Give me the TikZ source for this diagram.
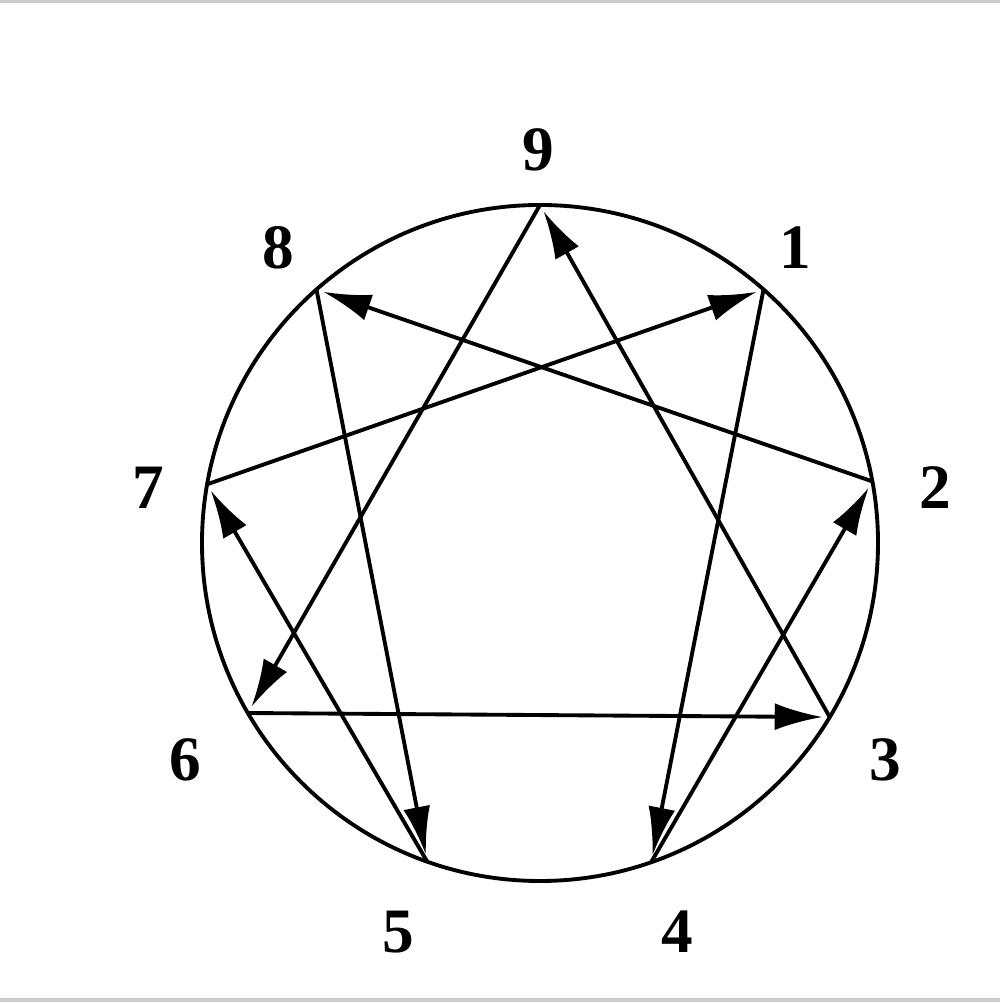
\documentclass[tikz,border=0pt]{standalone}
\usepackage{fontspec}
\setmainfont{Liberation Serif}
\usetikzlibrary{arrows.meta}
\begin{document}
\begin{tikzpicture}[line width=1.1pt,
        arr/.style={-{Latex[length=4.8mm,width=2.7mm]},shorten >=2pt},
        num/.style={font=\fontsize{18}{21}\bfseries\selectfont}]
        \useasboundingbox (-5.40,-4.60) rectangle (4.60,5.43);
        \draw[black!20,line width=1.4pt] (-5.40,5.42)--(4.60,5.42);
        \draw[black!20,line width=1.4pt] (-5.40,-4.57)--(4.60,-4.57);
        \draw (0,0) circle (3.38);
        \foreach \k/\a/\x/\y in {1/48.6/2.55/2.95,2/10.5/3.95/0.55,3/-31/3.45/-2.17,
                                 4/-70.8/1.37/-3.89,5/-109.5/-1.42/-3.89,6/-149.8/-3.55/-2.17,
                                 7/170/-3.92/0.55,8/131.4/-2.62/2.95,9/90/-0.02/3.93}{
            \coordinate (p\k) at (\a:3.38);
            \node[num] (n\k) at (\x,\y) {\k};
        }
        % inner lines
        \draw[arr] (p9)--(p6);
        \draw[arr] (p6)--(p3);
        \draw[arr] (p3)--(p9);
        \draw[arr] (p1)--(p4);
        \draw[arr] (p4)--(p2);
        \draw[arr] (p2)--(p8);
        \draw[arr] (p8)--(p5);
        \draw[arr] (p5)--(p7);
        \draw[arr] (p7)--(p1);
    \end{tikzpicture}
\end{document}
